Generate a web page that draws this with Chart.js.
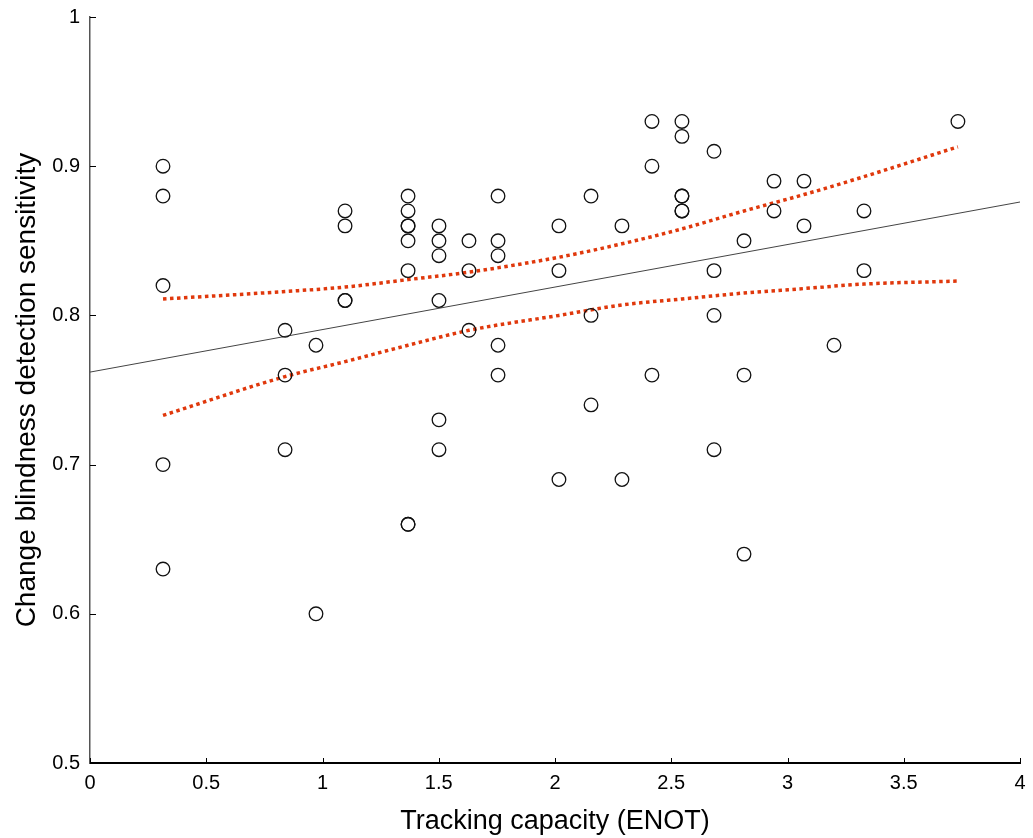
<!DOCTYPE html>
<html>
<head>
<meta charset="utf-8">
<script src="https://cdn.jsdelivr.net/npm/chart.js@4.4.0/dist/chart.umd.min.js"></script>
<style>
  html, body { margin: 0; padding: 0; background: #fff; }
  #wrap { width: 1033px; height: 838px; position: relative; }
</style>
</head>
<body>
<div id="wrap"><canvas id="c" width="1033" height="838"></canvas></div>
<script>
// Observations: tracking capacity (ENOT) and change blindness detection sensitivity
const tracking = [
  0.314, 0.314, 0.314, 0.314, 0.314,
  0.839, 0.839, 0.839,
  0.972, 0.972,
  1.097, 1.097, 1.097, 1.097,
  1.368, 1.368, 1.368, 1.368, 1.368, 1.368, 1.368, 1.368,
  1.501, 1.501, 1.501, 1.501, 1.501, 1.501,
  1.630, 1.630, 1.630,
  1.755, 1.755, 1.755, 1.755, 1.755,
  2.017, 2.017, 2.017,
  2.155, 2.155, 2.155,
  2.288, 2.288,
  2.417, 2.417, 2.417,
  2.546, 2.546, 2.546, 2.546, 2.546, 2.546,
  2.684, 2.684, 2.684, 2.684,
  2.813, 2.813, 2.813,
  2.942, 2.942,
  3.071, 3.071,
  3.200,
  3.329, 3.329,
  3.733
];
const sensitivity = [
  0.90, 0.88, 0.82, 0.70, 0.63,
  0.79, 0.76, 0.71,
  0.78, 0.60,
  0.87, 0.86, 0.81, 0.81,
  0.88, 0.87, 0.86, 0.86, 0.85, 0.83, 0.66, 0.66,
  0.86, 0.85, 0.84, 0.81, 0.73, 0.71,
  0.85, 0.83, 0.79,
  0.88, 0.85, 0.84, 0.78, 0.76,
  0.86, 0.83, 0.69,
  0.88, 0.80, 0.74,
  0.86, 0.69,
  0.93, 0.90, 0.76,
  0.93, 0.92, 0.88, 0.88, 0.87, 0.87,
  0.91, 0.83, 0.80, 0.71,
  0.85, 0.76, 0.64,
  0.89, 0.87,
  0.89, 0.86,
  0.78,
  0.87, 0.83,
  0.93
];
// Regression line
const fitX = [0, 4];
const fitY = [0.762, 0.876];
// Confidence band
const bandX     = [0.314, 0.839, 1.097, 1.368, 1.630, 2.017, 2.288, 2.546, 2.813, 3.071, 3.329, 3.733];
const upperBand = [0.811, 0.816, 0.819, 0.824, 0.829, 0.839, 0.848, 0.858, 0.870, 0.881, 0.893, 0.913];
const lowerBand = [0.733, 0.759, 0.769, 0.780, 0.790, 0.800, 0.807, 0.811, 0.815, 0.818, 0.821, 0.823];
// Axis ticks
const xTicks = [0, 0.5, 1, 1.5, 2, 2.5, 3, 3.5, 4];
const yTicks = [0.5, 0.6, 0.7, 0.8, 0.9, 1];
const xTitle = 'Tracking capacity (ENOT)';
const yTitle = 'Change blindness detection sensitivity';

const zip = (xs, ys) => xs.map((x, i) => ({ x: x, y: ys[i] }));
const RED = '#e0380c';
const FONT = "'Liberation Sans', Arial, sans-serif";

const inwardTicks = {
  id: 'inwardTicks',
  afterDraw(chart) {
    const ctx = chart.ctx;
    const xs = chart.scales.x, ys = chart.scales.y;
    const a = chart.chartArea;
    ctx.save();
    ctx.strokeStyle = '#000';
    ctx.lineWidth = 1;
    xTicks.forEach(v => {
      const px = Math.round(xs.getPixelForValue(v)) + 0.5;
      ctx.beginPath();
      ctx.moveTo(px, a.bottom);
      ctx.lineTo(px, a.bottom - 5);
      ctx.stroke();
    });
    yTicks.forEach(v => {
      const py = Math.round(ys.getPixelForValue(v)) + 0.5;
      ctx.beginPath();
      ctx.moveTo(a.left, py);
      ctx.lineTo(a.left + 6, py);
      ctx.stroke();
    });
    ctx.restore();
  }
};

new Chart(document.getElementById('c'), {
  type: 'scatter',
  data: {
    datasets: [
      {
        label: 'Data',
        data: zip(tracking, sensitivity),
        pointStyle: 'circle',
        pointRadius: 6.8,
        pointBorderWidth: 1.3,
        borderColor: '#111',
        backgroundColor: 'rgba(0,0,0,0)',
        pointBackgroundColor: 'rgba(0,0,0,0)',
        pointBorderColor: '#111',
        showLine: false,
        order: 1
      },
      {
        label: 'Fit',
        type: 'line',
        data: zip(fitX, fitY),
        borderColor: '#444',
        borderWidth: 1,
        pointRadius: 0,
        fill: false,
        order: 2
      },
      {
        label: 'Upper',
        type: 'line',
        data: zip(bandX, upperBand),
        borderColor: RED,
        borderWidth: 3.5,
        borderDash: [3.5, 3.5],
        borderCapStyle: 'butt',
        pointRadius: 0,
        fill: false,
        cubicInterpolationMode: 'monotone',
        order: 3
      },
      {
        label: 'Lower',
        type: 'line',
        data: zip(bandX, lowerBand),
        borderColor: RED,
        borderWidth: 3.5,
        borderDash: [3.5, 3.5],
        borderCapStyle: 'butt',
        pointRadius: 0,
        fill: false,
        cubicInterpolationMode: 'monotone',
        order: 3
      }
    ]
  },
  options: {
    responsive: false,
    animation: false,
    devicePixelRatio: 1,
    layout: { padding: { top: 17, right: 13, left: 0, bottom: 0 } },
    plugins: { legend: { display: false }, tooltip: { enabled: false } },
    scales: {
      x: {
        type: 'linear',
        min: 0, max: 4,
        afterBuildTicks: s => { s.ticks = xTicks.map(v => ({ value: v })); },
        afterFit: s => { s.height = 75; s.paddingLeft = 0; s.paddingRight = 0; },
        grid: { display: false, drawTicks: false },
        border: { display: true, color: '#000', width: 2 },
        ticks: {
          color: '#000',
          font: { family: FONT, size: 20 },
          padding: 8,
          maxRotation: 0,
          callback: v => String(v)
        },
        title: {
          display: true,
          text: xTitle,
          color: '#000',
          font: { family: FONT, size: 27 },
          padding: { top: 0, bottom: 0 }
        }
      },
      y: {
        type: 'linear',
        min: 0.5, max: 1,
        afterBuildTicks: s => { s.ticks = yTicks.map(v => ({ value: v })); },
        afterFit: s => { s.width = 90; s.paddingTop = 0; s.paddingBottom = 0; },
        grid: { display: false, drawTicks: false },
        border: { display: true, color: '#555', width: 1.5 },
        ticks: {
          color: '#000',
          font: { family: FONT, size: 20 },
          padding: 10,
          callback: v => String(v)
        },
        title: {
          display: true,
          text: yTitle,
          color: '#000',
          font: { family: FONT, size: 28 },
          padding: { top: 10, bottom: 0 }
        }
      }
    }
  },
  plugins: [inwardTicks]
});
</script>
</body>
</html>
